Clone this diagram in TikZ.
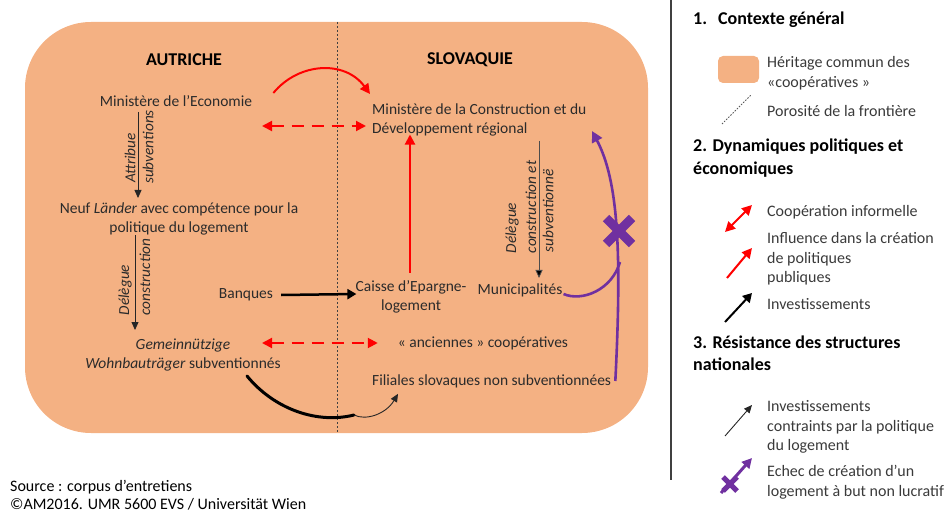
\documentclass[tikz,border=0pt]{standalone}
\usepackage{fontspec}
\setmainfont{Carlito}
\usetikzlibrary{arrows.meta,calc}
\definecolor{coop}{HTML}{F4B183}
\definecolor{purp}{HTML}{7030A0}
\definecolor{txt}{HTML}{2B2B2B}
\definecolor{ltxt}{HTML}{3A3A3A}
\definecolor{rd}{HTML}{FF0000}
\begin{document}
\begin{tikzpicture}[x=1pt,y=-1pt,
  lbl/.style={font=\fontsize{15.5}{19}\selectfont, text=txt, inner sep=0pt, align=center},
  rlbl/.style={font=\fontsize{15.3}{17}\selectfont\itshape, text=txt, inner sep=0pt, rotate=90},
  leg/.style={font=\fontsize{16}{19.5}\selectfont, text=ltxt, inner sep=0pt, align=left, anchor=west},
  head/.style={font=\fontsize{18}{22.5}\selectfont\bfseries, text=black, inner sep=0pt, align=left, anchor=west},
  title/.style={font=\fontsize{18}{20}\selectfont\bfseries, text=black, inner sep=0pt},
  redarr/.style={draw=rd, line width=2pt, -{Triangle[width=10pt,length=10pt]}},
  reddash/.style={draw=rd, line width=2pt, dash pattern=on 12pt off 8pt, {Triangle[width=10pt,length=10pt]}-{Triangle[width=10pt,length=10pt]}},
  blkarr/.style={draw=black, line width=2.5pt, -{Triangle[width=10pt,length=9pt]}},
  thinarr/.style={draw=black!85, line width=0.9pt, -{Triangle[width=7pt,length=8pt]}},
  purarr/.style={draw=purp, line width=2.6pt, -{Triangle[width=11pt,length=11pt]}},
  purcross/.style={draw=purp, line width=9pt},
]
\useasboundingbox (0,0) rectangle (948,513);

% heritage shape and border
\fill[coop, rounded corners=66pt] (25,22) rectangle (648,433);
\coordinate (btop) at (337,22);
\coordinate (bbot) at (337,433);
\draw[black!75, line width=0.9pt, dash pattern=on 2pt off 2pt] (btop) -- (bbot);

% titles
\node[title] (aut) at (184,60) {AUTRICHE};
\node[title] (svk) at (470,60) {SLOVAQUIE};

% Austrian nodes
\node[lbl] (mecon) at (176,101) {Ministère de l’Economie};
\node[lbl] (lander) at (179,219) {Neuf \textit{Länder} avec compétence pour la\\politique du logement};
\node[lbl] (banq) at (246,295) {Banques};
\node[lbl] (gem) at (183,355) {\textit{Gemeinnützige}\\\textit{Wohnbauträger} subventionnés};

% Slovak nodes
\node[lbl, anchor=west, align=left] (smin) at (372,120) {Ministère de la Construction et du\\Développement régional};
\node[lbl] (caisse) at (411,297) {Caisse d’Epargne-\\logement};
\node[lbl] (muni) at (520,290) {Municipalités};
\node[lbl] (anc) at (483,343) {« anciennes » coopératives};
\node[lbl, anchor=west] (fil) at (372,381) {Filiales slovaques non subventionnées};

% Austrian vertical arrows
\draw[thinarr, line width=0.8pt] (138,112) coordinate (a1s) -- (138,198) coordinate (a1e);
\node[rlbl] (l1a) at (130,158) {Attribue};
\node[rlbl] (l1b) at (148,147) {subventions};
\draw[thinarr, line width=0.8pt] (135,235) coordinate (a2s) -- (135,330) coordinate (a2e);
\node[rlbl] (l2a) at (125,290) {Délègue};
\node[rlbl] (l2b) at (145,277) {construction};

% Slovak vertical arrow
\draw[draw=black!70, line width=0.8pt, -{Triangle[width=7pt,length=8pt,fill=black]}] (539,141) coordinate (a3s) -- (539,278) coordinate (a3e);
\node[rlbl] (l3a) at (512,228) {Délègue};
\node[rlbl] (l3b) at (531,207) {construction et};
\node[rlbl] (l3c) at (548,211) {subventionnë};

% red influence curve
\draw[redarr] ($(mecon.east)+(21,-8)$) .. controls (299,62) and (345,60) .. (370,94);
% red dashed informal cooperation (top)
\draw[reddash] (262,126) -- ($(smin.west)+(-6,6)$);
% red vertical from caisse
\draw[redarr] ($(caisse.north)+(-1,-8)$) -- ($(caisse.north)+(-1,-146)$);
% banques -> caisse
\draw[blkarr] ($(banq.east)+(8,0)$) -- ($(caisse.west)+(1,-3)$);
% red dashed bottom
\draw[reddash] (262,343) -- ($(anc.west)+(-20,0)$);
% black curve gem -> filiales
\draw[black, line width=3pt, line cap=round] (247,376) .. controls (275,410) and (318,424) .. (354,415) coordinate (jn);
\draw[thinarr] (jn) .. controls (366,421) and (386,414) .. ($(fil.south west)+(26,6)$);

% purple
\draw[purarr] ($(fil.east)+(4,0)$) .. controls (622,250) and (618,180) .. (592,131);
\draw[draw=purp, line width=2.6pt] ($(muni.east)+(1,4)$) .. controls (582,302) and (612,290) .. (620,262);
\coordinate (xc) at (619,231);
\draw[purcross] ($(xc)+(-13,-13)$) -- ($(xc)+(13,13)$);
\draw[purcross] ($(xc)+(-13,13)$) -- ($(xc)+(13,-13)$);

% legend separator
\coordinate (sept) at (671,0);
\coordinate (sepb) at (671,480);
\draw[black!75, line width=1.2pt] (sept) -- (sepb);

% legend
\node[head] (h1) at (693,20) {1.\hspace{11pt}Contexte général};
\fill[coop, rounded corners=5pt] (718,56) rectangle (759,83);
\node[leg] (t1) at (767,73) {Héritage commun des\\«coopératives »};
\coordinate (p1) at (722,124);
\coordinate (p2) at (751,95);
\draw[black!65, line width=0.8pt, dash pattern=on 1.5pt off 1.5pt] (p1) -- (p2);
\node[leg] (t2) at (767,111) {Porosité de la frontière};

\node[head] (h2) at (693,158) {2. Dynamiques politiques et\\économiques};
\coordinate (q1) at (725,232);
\coordinate (q2) at (752,205);
\draw[draw=rd, line width=2pt, {Triangle[width=10pt,length=10pt]}-{Triangle[width=10pt,length=10pt]}] (q1) -- (q2);
\node[leg] (t3) at (767,212) {Coopération informelle};
\coordinate (r1) at (727,278);
\coordinate (r2) at (752,248);
\draw[redarr] (r1) -- (r2);
\node[leg] (t4) at (767,259) {Influence dans la création\\de politiques\\publiques};
\coordinate (s1) at (725,322);
\coordinate (s2) at (752,293);
\draw[blkarr, line width=2pt] (s1) -- (s2);
\node[leg] (t5) at (767,304) {Investissements};

\node[head] (h3) at (693,353) {3. Résistance des structures\\nationales};
\coordinate (u1) at (725,436);
\coordinate (u2) at (752,405);
\draw[thinarr] (u1) -- (u2);
\node[leg] (t6) at (767,427) {Investissements\\contraints par la politique\\du logement};
\coordinate (v1) at (721,493);
\coordinate (v2) at (752,458);
\draw[draw=purp, line width=3pt, -{Triangle[width=10pt,length=10pt]}] (v1) -- (v2);
\coordinate (vx) at (730,484);
\draw[draw=purp, line width=5pt] ($(vx)+(-7,-7)$) -- ($(vx)+(7,7)$);
\draw[draw=purp, line width=5pt] ($(vx)+(-7,7)$) -- ($(vx)+(7,-7)$);
\node[leg] (t7) at (767,482) {Echec de création d’un\\logement à but non lucratif};

% footer
\node[leg, font=\fontsize{16}{18.5}\selectfont, text=black] (src) at (10,495) {Source : corpus d’entretiens\\©AM2016. UMR 5600 EVS / Universität Wien};
\end{tikzpicture}
\end{document}
